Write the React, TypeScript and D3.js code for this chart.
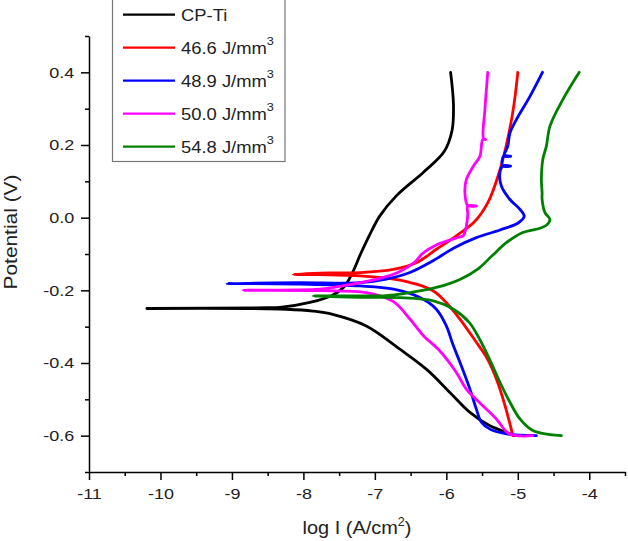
import { useEffect, useRef } from 'react';
import * as d3 from 'd3';

type Pt = [number, number]; // [log I, potential]

const seriesNames = ['CP-Ti', '46.6 J/mm', '48.9 J/mm', '50.0 J/mm', '54.8 J/mm'];
const seriesColors = ['#000000', '#ff0000', '#0000ff', '#ff00ff', '#008000'];

const xTicks = [-11, -10, -9, -8, -7, -6, -5, -4];
const xMinor = [-10.5, -9.5, -8.5, -7.5, -6.5, -5.5, -4.5, -3.5];
const yTicks = [-0.6, -0.4, -0.2, 0.0, 0.2, 0.4];
const yMinor = [-0.7, -0.5, -0.3, -0.1, 0.1, 0.3, 0.5];

const cpTi: Pt[] = [
  [-5.05, -0.6], [-5.16, -0.591], [-5.39, -0.573], [-5.67, -0.536], [-5.95, -0.481],
  [-6.28, -0.417], [-6.65, -0.362], [-7.12, -0.298], [-7.59, -0.266], [-7.87, -0.257],
  [-8.24, -0.252], [-8.75, -0.25], [-10.19, -0.25], [-8.5, -0.248], [-8.33, -0.247],
  [-7.91, -0.233], [-7.6, -0.214], [-7.43, -0.19], [-7.31, -0.15], [-7.2, -0.1],
  [-7.08, -0.05], [-6.93, 0.005], [-6.7, 0.06], [-6.32, 0.125], [-6.03, 0.182],
  [-5.92, 0.24], [-5.9, 0.31], [-5.94, 0.4],
];

const ed466: Pt[] = [
  [-5.07, -0.6], [-5.12, -0.56], [-5.19, -0.51], [-5.27, -0.46], [-5.36, -0.415],
  [-5.45, -0.38], [-5.58, -0.343], [-5.81, -0.279], [-6.0, -0.234],
  [-6.18, -0.202], [-6.42, -0.183], [-6.74, -0.169], [-7.21, -0.16], [-7.77, -0.157],
  [-8.14, -0.156], [-7.63, -0.152], [-7.21, -0.151], [-6.74, -0.142], [-6.42, -0.124],
  [-6.14, -0.087], [-5.86, -0.05], [-5.6, -0.01], [-5.41, 0.045], [-5.26, 0.125],
  [-5.16, 0.2], [-5.07, 0.29], [-5.0, 0.4],
];

const ed489: Pt[] = [
  [-4.74, -0.6], [-5.16, -0.595], [-5.39, -0.582], [-5.51, -0.563], [-5.58, -0.527],
  [-5.67, -0.472], [-5.81, -0.398], [-5.91, -0.348], [-6.0, -0.298], [-6.14, -0.252],
  [-6.37, -0.22], [-6.74, -0.197], [-7.21, -0.188], [-8.05, -0.183], [-9.07, -0.181],
  [-8.05, -0.179], [-7.21, -0.179], [-6.84, -0.169], [-6.51, -0.151], [-6.18, -0.118],
  [-5.9, -0.084], [-5.58, -0.055], [-5.25, -0.034], [-4.99, -0.014], [-4.91, 0.004],
  [-4.97, 0.023], [-5.11, 0.05], [-5.23, 0.087], [-5.25, 0.124], [-5.21, 0.142],
  [-5.1, 0.142], [-5.21, 0.142], [-5.2, 0.169], [-5.1, 0.169], [-5.19, 0.17],
  [-5.14, 0.197], [-5.11, 0.233], [-5.02, 0.27], [-4.83, 0.334], [-4.655, 0.4],
];

const ed500: Pt[] = [
  [-4.79, -0.6], [-5.12, -0.595], [-5.3, -0.554], [-5.53, -0.51], [-5.72, -0.472],
  [-5.86, -0.426], [-6.09, -0.367], [-6.32, -0.325], [-6.51, -0.279], [-6.74, -0.231],
  [-7.12, -0.206], [-7.77, -0.201], [-8.84, -0.2], [-7.77, -0.197], [-7.49, -0.189],
  [-6.93, -0.167], [-6.65, -0.148], [-6.44, -0.122], [-6.33, -0.098], [-6.14, -0.075],
  [-5.86, -0.056], [-5.76, -0.049], [-5.72, -0.023], [-5.7, 0.009], [-5.7, 0.032],
  [-5.58, 0.032], [-5.7, 0.033], [-5.74, 0.069], [-5.72, 0.105], [-5.62, 0.142],
  [-5.53, 0.169], [-5.49, 0.215], [-5.45, 0.215], [-5.48, 0.218], [-5.46, 0.298],
  [-5.42, 0.4],
];

const ed548: Pt[] = [
  [-4.39, -0.6], [-4.55, -0.597], [-4.79, -0.586], [-4.97, -0.554], [-5.11, -0.508],
  [-5.25, -0.453], [-5.39, -0.392], [-5.53, -0.336], [-5.68, -0.288], [-5.9, -0.252],
  [-6.18, -0.229], [-6.65, -0.22], [-7.21, -0.219], [-7.86, -0.216], [-7.21, -0.215],
  [-6.88, -0.215], [-6.51, -0.206], [-6.14, -0.192], [-5.81, -0.17], [-5.55, -0.14],
  [-5.36, -0.105], [-5.16, -0.069], [-4.93, -0.041], [-4.69, -0.029], [-4.6, -0.021],
  [-4.55, -0.005], [-4.62, 0.014], [-4.66, 0.05], [-4.66, 0.069], [-4.67, 0.105],
  [-4.65, 0.16], [-4.6, 0.197], [-4.55, 0.252], [-4.37, 0.325], [-4.14, 0.4],
];

const allSeries = [cpTi, ed466, ed489, ed500, ed548];

const FONT = '"Liberation Sans", Arial, sans-serif';
// the reference's lettering is a little wider than Arial
const STRETCH = 1.2;

export default function App() {
  const svgRef = useRef<SVGSVGElement>(null);

  useEffect(() => {
    if (!svgRef.current) return;
    const svg = d3.select(svgRef.current);
    svg.selectAll('*').remove();

    const x = d3.scaleLinear().domain([-11, -3.5]).range([89, 625]);
    const y = d3.scaleLinear().domain([-0.7, 0.5]).range([472, 36]);

    // minor ticks
    svg.append('g')
      .attr('transform', 'translate(0,472)')
      .call(d3.axisBottom(x).tickValues(xMinor).tickSize(4).tickSizeOuter(0).tickFormat(() => ''))
      .call(g => g.select('.domain').remove())
      .selectAll('line').attr('stroke-width', 1.5);
    svg.append('g')
      .attr('transform', 'translate(89,0)')
      .call(d3.axisLeft(y).tickValues(yMinor).tickSize(4).tickSizeOuter(0).tickFormat(() => ''))
      .call(g => g.select('.domain').remove())
      .selectAll('line').attr('stroke-width', 1.5);

    // major ticks
    const xa = svg.append('g')
      .attr('transform', 'translate(0,472)')
      .call(d3.axisBottom(x).tickValues(xTicks).tickSize(8).tickSizeOuter(0).tickPadding(8)
        .tickFormat(d => String(d)));
    xa.attr('font-family', FONT).attr('font-size', 15);
    xa.selectAll('line').attr('stroke-width', 1.5);
    xa.select('.domain').attr('stroke-width', 1.5);
    xa.selectAll('text').attr('fill', '#222').attr('transform', `scale(${STRETCH},1)`);

    const ya = svg.append('g')
      .attr('transform', 'translate(89,0)')
      .call(d3.axisLeft(y).tickValues(yTicks).tickSize(8).tickSizeOuter(0).tickPadding(4.3)
        .tickFormat(d => (d as number).toFixed(1)));
    ya.attr('font-family', FONT).attr('font-size', 15);
    ya.selectAll('line').attr('stroke-width', 1.5);
    ya.select('.domain').attr('stroke-width', 1.5);
    ya.selectAll('text').attr('fill', '#222').attr('transform', `scale(${STRETCH},1)`);

    // curves
    const line = d3.line<Pt>()
      .x(d => x(d[0]))
      .y(d => y(d[1]))
      .curve(d3.curveCatmullRom.alpha(0.5));

    allSeries.forEach((s, i) => {
      svg.append('path')
        .datum(s)
        .attr('d', line)
        .attr('fill', 'none')
        .attr('stroke', seriesColors[i])
        .attr('stroke-width', 2.8)
        .attr('stroke-linejoin', 'round')
        .attr('stroke-linecap', 'round');
    });

    // axis titles
    const xt = svg.append('text')
      .attr('transform', 'translate(357,534) scale(1.05,1)')
      .attr('text-anchor', 'middle')
      .attr('font-family', FONT).attr('font-size', 19).attr('fill', '#222');
    xt.append('tspan').text('log I (A/cm');
    xt.append('tspan').attr('font-size', 12).attr('dy', -8).text('2');
    xt.append('tspan').attr('dy', 8).text(')');

    svg.append('text')
      .attr('transform', 'translate(17,232) rotate(-90) scale(1.1,1)')
      .attr('text-anchor', 'middle')
      .attr('font-family', FONT).attr('font-size', 19).attr('fill', '#222')
      .text('Potential (V)');

    // legend
    const lg = svg.append('g');
    lg.append('rect')
      .attr('x', 112.5).attr('y', -1).attr('width', 172.5).attr('height', 162.5)
      .attr('fill', 'white').attr('stroke', '#777').attr('stroke-width', 1.2);
    seriesNames.forEach((name, i) => {
      const cy = 14.7 + i * 33;
      lg.append('line')
        .attr('x1', 123).attr('x2', 175).attr('y1', cy).attr('y2', cy)
        .attr('stroke', seriesColors[i]).attr('stroke-width', 2.2);
      const t = lg.append('text')
        .attr('transform', `translate(181,${cy + 6}) scale(1.15,1)`)
        .attr('font-family', FONT).attr('font-size', 16).attr('fill', '#222');
      t.append('tspan').text(name);
      if (i > 0) t.append('tspan').attr('font-size', 11).attr('dy', -9).text('3');
    });
  }, []);

  return (
    <svg
      ref={svgRef}
      width={628}
      height={541}
      style={{ position: 'absolute', left: 0, top: 0, background: 'white' }}
    />
  );
}
